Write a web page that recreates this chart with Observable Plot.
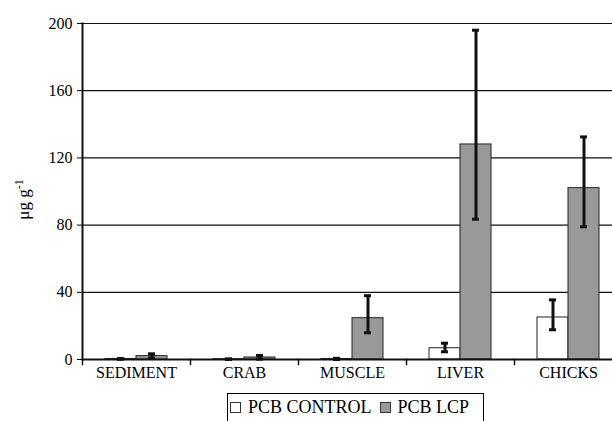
<!DOCTYPE html>
<html>
<head>
<meta charset="utf-8">
<script src="https://cdn.jsdelivr.net/npm/d3@7"></script>
<script src="https://cdn.jsdelivr.net/npm/@observablehq/plot@0.6"></script>
<style>
  html, body { margin: 0; padding: 0; background: #fff; }
  #chart { width: 612px; height: 421px; overflow: hidden; font-family: "Liberation Serif", "Times New Roman", serif; color: #000; }
  #chart svg, #chart svg text { font-family: "Liberation Serif", "Times New Roman", serif !important; }
  #legend { display: inline-flex; align-items: center; margin-left: 227px; margin-top: 3px; border: 1px solid #000; padding: 3px 6px 10px 2px; font-size: 18px; line-height: 21px; }
  .sw { display: inline-block; width: 9px; height: 9px; border: 1px solid #333; margin-right: 7px; }
  .item { display: inline-flex; align-items: center; margin-right: 8px; }
</style>
</head>
<body>
<div id="chart"></div>
<script>
const categories = ["SEDIMENT", "CRAB", "MUSCLE", "LIVER", "CHICKS"];
const series = ["PCB CONTROL", "PCB LCP"];
const controlMean = [0.3, 0.2, 0.3, 6.7, 25];
const controlLow  = [0.1, 0.0, 0.0, 4.6, 17.7];
const controlHigh = [0.6, 0.4, 0.7, 9.7, 35.5];
const lcpMean = [2.0, 1.2, 24.6, 128, 102];
const lcpLow  = [0.8, 0.2, 15.9, 83.5, 79];
const lcpHigh = [3.4, 2.4, 38, 196, 132.5];
const yTicks = [0, 40, 80, 120, 160, 200];
const yLabel = "μg g";
const yLabelSup = "-1";
const seriesColors = ["#ffffff", "#999999"];

const data = [];
categories.forEach((c, i) => {
  data.push({cat: c, series: series[0], value: controlMean[i], low: controlLow[i], high: controlHigh[i]});
  data.push({cat: c, series: series[1], value: lcpMean[i], low: lcpLow[i], high: lcpHigh[i]});
});

const H = 390, mTop = 23, mBottom = 31;
const font = "Liberation Serif, Times New Roman, serif";

const chart = Plot.plot({
  width: 612,
  height: H,
  marginLeft: 82,
  marginRight: -10,
  marginTop: mTop,
  marginBottom: mBottom,
  style: {fontFamily: font, color: "#000", background: "#fff"},
  fx: {domain: categories, paddingInner: 0, paddingOuter: 0, label: null, axis: null},
  x: {domain: series, paddingInner: 0, paddingOuter: 0.74, axis: null},
  y: {domain: [0, 200], label: yLabel, axis: null},
  color: {domain: series, range: seriesColors},
  marks: [
    Plot.ruleY(yTicks.filter(d => d > 0), {stroke: "#111", strokeWidth: 1.2}),
    Plot.barY(data, {fx: "cat", x: "series", y: "value", fill: "series", stroke: "#222", strokeWidth: 1}),
    Plot.ruleX(data, {fx: "cat", x: "series", y1: "low", y2: "high", stroke: "#111", strokeWidth: 3}),
    Plot.tickY(data, {fx: "cat", x: "series", y: "high", stroke: "#111", strokeWidth: 3, insetLeft: 12, insetRight: 12}),
    Plot.tickY(data, {fx: "cat", x: "series", y: "low", stroke: "#111", strokeWidth: 3, insetLeft: 12, insetRight: 12}),
    Plot.ruleY([0], {stroke: "#111", strokeWidth: 2}),
    Plot.frame({anchor: "left", insetTop: H - mTop - mBottom, insetBottom: -5, stroke: "#111", strokeWidth: 1.5}),
    Plot.frame({anchor: "left", facet: "super", stroke: "#111", strokeWidth: 2}),
    Plot.axisY({ticks: yTicks, tickSize: 5, tickPadding: 5, fontSize: 16, fontFamily: font, label: yLabel, labelAnchor: "center", labelOffset: 66, labelArrow: "none"}),
    Plot.axisFx({anchor: "bottom", tickSize: 0, tickPadding: 7, fontSize: 16, fontFamily: font, label: null})
  ]
});

document.getElementById("chart").appendChild(chart);

// superscript on the y-axis label
d3.select(chart).selectAll('g[aria-label="y-axis label"] text').each(function () {
  const t = d3.select(this);
  t.text(null);
  t.append("tspan").text(yLabel);
  t.append("tspan").attr("dy", "-0.45em").attr("font-size", "12px").text(yLabelSup);
}).attr("font-size", 17).attr("dx", -8);

// legend
const legend = d3.select("#chart").append("div").attr("id", "legend");
series.forEach((s, i) => {
  const it = legend.append("span").attr("class", "item");
  it.append("span").attr("class", "sw").style("background", seriesColors[i]);
  it.append("span").text(s);
});
</script>
</body>
</html>
